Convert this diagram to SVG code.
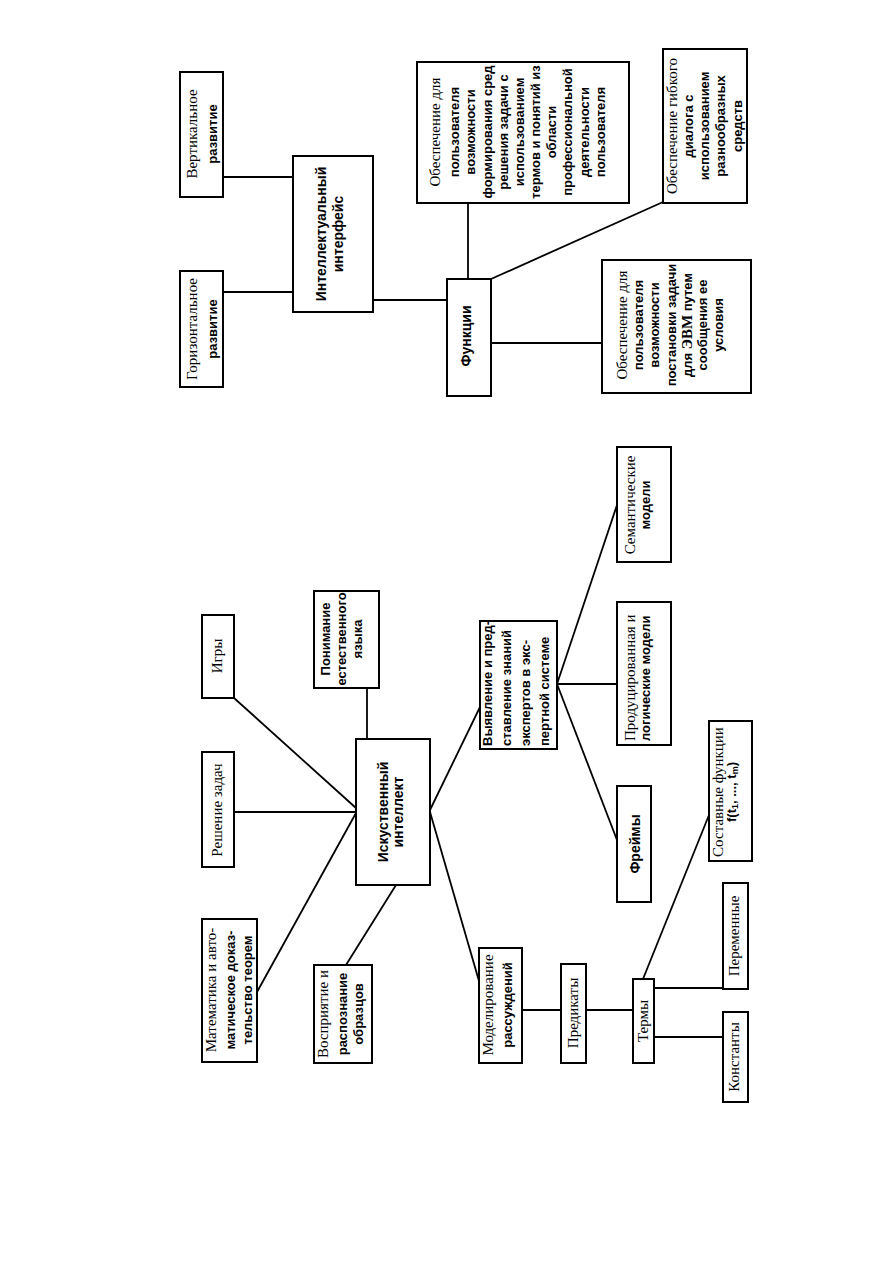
<svg xmlns="http://www.w3.org/2000/svg" width="893" height="1263" viewBox="0 0 893 1263">
<style>
rect{fill:#fff;stroke:#000;stroke-width:2}
#connectors line{stroke:#000;stroke-width:1.8}
text{fill:#000}
.s{font-family:"Liberation Serif",serif;font-size:15px}
.b{font-family:"Liberation Sans Narrow","Liberation Sans",sans-serif;font-weight:bold;font-size:13px}
.h{font-family:"Liberation Sans Narrow","Liberation Sans",sans-serif;font-weight:bold;font-size:14px}
.m{text-anchor:middle}
.st{text-anchor:start}
</style>
<rect x="0" y="0" width="893" height="1263" style="stroke:none"/>
<g id="connectors">
<line x1="223" y1="177" x2="293" y2="177"/>
<line x1="223" y1="292" x2="293" y2="292"/>
<line x1="373" y1="300" x2="447" y2="300"/>
<line x1="468" y1="279" x2="468" y2="203"/>
<line x1="491" y1="279" x2="663" y2="202"/>
<line x1="491" y1="343" x2="602" y2="343"/>
<line x1="367" y1="688" x2="367" y2="739"/>
<line x1="234" y1="698" x2="356" y2="808"/>
<line x1="234" y1="812" x2="356" y2="812"/>
<line x1="257" y1="992" x2="356" y2="813"/>
<line x1="346" y1="965" x2="396" y2="885"/>
<line x1="430" y1="810" x2="480" y2="707"/>
<line x1="430" y1="812" x2="479" y2="981"/>
<line x1="557" y1="684" x2="617" y2="505"/>
<line x1="557" y1="684" x2="617" y2="684"/>
<line x1="557" y1="684" x2="617" y2="840"/>
<line x1="522" y1="1010" x2="561" y2="1010"/>
<line x1="586" y1="1010" x2="633" y2="1010"/>
<line x1="643" y1="979" x2="709" y2="815"/>
<line x1="654" y1="988" x2="723" y2="988"/>
<line x1="654" y1="1037" x2="723" y2="1037"/>
</g>
<g id="n-vert">
<rect x="180" y="72" width="43" height="125"/>
<text class="m" transform="translate(197,134) rotate(-90)"><tspan class="s" x="0" y="0">Вертикальное</tspan><tspan class="b" x="0" dy="20">развитие</tspan></text>
</g>
<g id="n-horiz">
<rect x="180" y="271" width="43" height="116"/>
<text class="m" transform="translate(197,329) rotate(-90)"><tspan class="s" x="0" y="0">Горизонтальное</tspan><tspan class="b" x="0" dy="20">развитие</tspan></text>
</g>
<g id="n-interface">
<rect x="293" y="156" width="80" height="156"/>
<text class="m h" transform="translate(326,234) rotate(-90)"><tspan x="0" y="0">Интеллектуальный</tspan><tspan x="0" dy="17">интерфейс</tspan></text>
</g>
<g id="n-functions">
<rect x="447" y="279" width="44" height="117"/>
<text class="m h" transform="translate(471,336) rotate(-90)">Функции</text>
</g>
<g id="n-form">
<rect x="417" y="62" width="212" height="141"/>
<text class="m" transform="translate(440,132) rotate(-90)"><tspan class="s" x="0" y="0">Обеспечение для</tspan><tspan class="b" x="0" dy="18.5">пользователя</tspan><tspan class="b" x="0" dy="16.5">возможности</tspan><tspan class="b" x="0" dy="16.5">формирования сред</tspan><tspan class="b" x="0" dy="16">решения задачи  с</tspan><tspan class="b" x="0" dy="16">использованием</tspan><tspan class="b" x="0" dy="16">термов и понятий из</tspan><tspan class="b" x="0" dy="16">области</tspan><tspan class="b" x="0" dy="16.5">профессиональной</tspan><tspan class="b" x="0" dy="16.5">деятельности</tspan><tspan class="b" x="0" dy="16.5">пользователя</tspan></text>
</g>
<g id="n-dialog">
<rect x="663" y="49" width="84" height="154"/>
<text class="m" transform="translate(677,126) rotate(-90)"><tspan class="s" x="0" y="0">Обеспечение гибкого</tspan><tspan class="b" x="0" dy="16">диалога с</tspan><tspan class="b" x="0" dy="16">использованием</tspan><tspan class="b" x="0" dy="16">разнообразных</tspan><tspan class="b" x="0" dy="17">средств</tspan></text>
</g>
<g id="n-task">
<rect x="602" y="260" width="149" height="133"/>
<text class="m" transform="translate(627,325) rotate(-90)"><tspan class="s" x="0" y="0" font-size="16">Обеспечение для</tspan><tspan class="b" x="0" dy="15.5">пользователя</tspan><tspan class="b" x="0" dy="16">возможности</tspan><tspan class="b" x="0" dy="17">постановки задачи</tspan><tspan class="b" x="0" dy="16">для <tspan class="s" font-size="16">ЭВМ</tspan> путем</tspan><tspan class="b" x="0" dy="15.5">сообщения ее</tspan><tspan class="b" x="0" dy="15.5">условия</tspan></text>
</g>
<g id="n-games">
<rect x="202" y="615" width="32" height="83"/>
<text class="m s" transform="translate(222,656) rotate(-90)">Игры</text>
</g>
<g id="n-language">
<rect x="314" y="591" width="65" height="97"/>
<text class="m b" transform="translate(330,639) rotate(-90)"><tspan x="0" y="0">Понимание</tspan><tspan x="0" dy="15.5">естественного</tspan><tspan x="0" dy="16.5">языка</tspan></text>
</g>
<g id="n-ai">
<rect x="356" y="739" width="74" height="146"/>
<text class="m h" transform="translate(388,812) rotate(-90)"><tspan x="0" y="0">Искуственный</tspan><tspan x="0" dy="15">интеллект</tspan></text>
</g>
<g id="n-solving">
<rect x="202" y="752" width="32" height="115"/>
<text class="m s" transform="translate(222,810) rotate(-90)">Решение задач</text>
</g>
<g id="n-math">
<rect x="202" y="919" width="55" height="143"/>
<text class="m" transform="translate(216,990) rotate(-90)"><tspan class="s" x="0" y="0">Математика и авто-</tspan><tspan class="b" x="0" dy="19">матическое доказ-</tspan><tspan class="b" x="0" dy="17">тельство теорем</tspan></text>
</g>
<g id="n-perception">
<rect x="314" y="965" width="58" height="98"/>
<text class="m" transform="translate(328,1014) rotate(-90)"><tspan class="s" x="0" y="0">Восприятие и</tspan><tspan class="b" x="0" dy="19">распознание</tspan><tspan class="b" x="0" dy="16">образцов</tspan></text>
</g>
<g id="n-experts">
<rect x="480" y="621" width="77" height="128"/>
<text class="st b" transform="translate(492,746) rotate(-90)"><tspan x="0" y="0">Выявление и пред-</tspan><tspan x="0" dy="19">ставление знаний</tspan><tspan x="0" dy="19">экспертов в экс-</tspan><tspan x="0" dy="19">пертной системе</tspan></text>
</g>
<g id="n-production">
<rect x="617" y="602" width="54" height="143"/>
<text class="st" transform="translate(635,741) rotate(-90)"><tspan class="s" x="0" y="0">Продуцированная и</tspan><tspan class="b" x="0" dy="15">логические модели</tspan></text>
</g>
<g id="n-semantic">
<rect x="617" y="447" width="54" height="115"/>
<text class="m" transform="translate(635,505) rotate(-90)"><tspan class="s" x="0" y="0">Семантические</tspan><tspan class="b" x="0" dy="15">модели</tspan></text>
</g>
<g id="n-frames">
<rect x="617" y="786" width="34" height="116"/>
<text class="m h" transform="translate(640,844) rotate(-90)">Фреймы</text>
</g>
<g id="n-reasoning">
<rect x="479" y="948" width="43" height="115"/>
<text class="m" transform="translate(493,1005) rotate(-90)"><tspan class="s" x="0" y="0">Моделирование</tspan><tspan class="b" x="0" dy="19">рассуждений</tspan></text>
</g>
<g id="n-predicates">
<rect x="561" y="964" width="25" height="99"/>
<text class="m s" transform="translate(578,1013) rotate(-90)">Предикаты</text>
</g>
<g id="n-terms">
<rect x="633" y="979" width="21" height="84"/>
<text class="m s" transform="translate(648,1021) rotate(-90)">Термы</text>
</g>
<g id="n-constants">
<rect x="723" y="1012" width="25" height="90"/>
<text class="m s" transform="translate(739,1057) rotate(-90)">Константы</text>
</g>
<g id="n-variables">
<rect x="723" y="883" width="25" height="106"/>
<text class="m s" transform="translate(739,936) rotate(-90)">Переменные</text>
</g>
<g id="n-compound">
<rect x="709" y="721" width="43" height="140"/>
<text class="m" transform="translate(723,792) rotate(-90)"><tspan class="s" x="0" y="0">Составные функции</tspan><tspan class="b" x="0" dy="13">f(t<tspan font-size="9" dy="2">1</tspan><tspan dy="-2">, ..., t</tspan><tspan font-size="9" dy="2">m</tspan><tspan dy="-2">)</tspan></tspan></text>
</g>
</svg>
